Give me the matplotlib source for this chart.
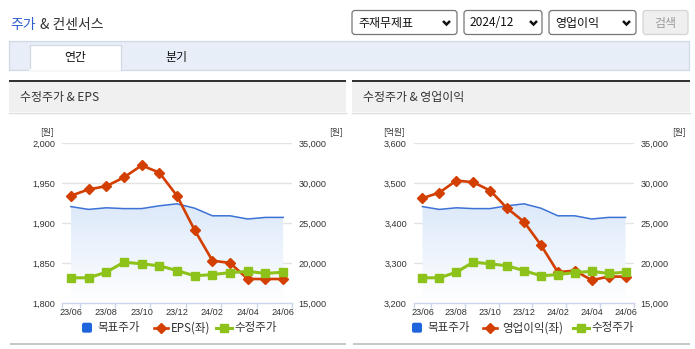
import matplotlib
matplotlib.use("Agg")
import matplotlib.pyplot as plt
from matplotlib.patches import Rectangle, FancyBboxPatch, Polygon
from matplotlib.colors import LinearSegmentedColormap
import numpy as np

plt.rcParams['font.family'] = ['Noto Sans CJK KR', 'DejaVu Sans']

# ---------------- data ----------------
months = ["23/06", "23/07", "23/08", "23/09", "23/10", "23/11", "23/12",
          "24/01", "24/02", "24/03", "24/04", "24/05", "24/06"]
target_price = [27050, 26700, 26900, 26800, 26800, 27150, 27400,
                26850, 25900, 25900, 25500, 25700, 25700]
adj_price = [18150, 18150, 18850, 20100, 19900, 19650, 19050,
             18400, 18550, 18800, 18950, 18700, 18850]
eps = [1934, 1942, 1946, 1957, 1972, 1963, 1934, 1891, 1853, 1850, 1830, 1830, 1830]
op_income = [3462, 3476, 3506, 3502, 3481, 3437, 3403, 3345, 3277, 3281, 3257, 3266, 3266]

left_ticks_eps = [1800, 1850, 1900, 1950, 2000]
left_ticks_op = [3200, 3300, 3400, 3500, 3600]
right_ticks = [15000, 20000, 25000, 30000, 35000]

W, H = 695, 349
RED = '#d23f00'
GREEN = '#8cc21a'
BLUE = '#3d72d6'
BLUE_SQ = '#1f66dd'
AXC = '#ccd6eb'
NUMFONT = ['Liberation Sans Narrow', 'Liberation Sans', 'DejaVu Sans']

fig = plt.figure(figsize=(W / 100, H / 100), dpi=100)
ui = fig.add_axes([0, 0, 1, 1])
ui.set_xlim(0, W)
ui.set_ylim(H, 0)
ui.axis('off')
ui.set_zorder(0)


def frac(x0, y0, x1, y1):
    return [x0 / W, 1 - y1 / H, (x1 - x0) / W, (y1 - y0) / H]


# ---------------- header UI ----------------
ui.text(10, 25, "주가", color='#2f5fce', fontsize=10, va='center', ha='left')
ui.text(40, 25, "& 컨센서스", color='#333333', fontsize=10, va='center', ha='left')


def dropdown(x0, x1, label, chev_x):
    ui.add_patch(FancyBboxPatch((x0, 10.5), x1 - x0, 24, boxstyle="round,pad=0,rounding_size=3",
                                facecolor='white', edgecolor='#767676', lw=0.9))
    ui.text(x0 + 6, 23, label, fontsize=8.6, va='center', ha='left', color='#111111')
    ui.plot([chev_x - 3.5, chev_x, chev_x + 3.5], [21, 24.5, 21], color='#111111', lw=1.8,
            solid_capstyle='butt', solid_joinstyle='miter')


dropdown(352, 457, "주재무제표", 446.5)
dropdown(464, 542, "2024/12", 533.5)
dropdown(549, 636, "영업이익", 626.5)
ui.add_patch(FancyBboxPatch((643, 10.5), 45, 24, boxstyle="round,pad=0,rounding_size=3",
                            facecolor='#efefef', edgecolor='#d4d4d4', lw=0.9))
ui.text(665.5, 23, "검색", fontsize=8.6, va='center', ha='center', color='#9a9a9a')

# tab bar
ui.add_patch(Rectangle((9, 40.5), 680, 29, facecolor='#e8eef8', edgecolor='#d0d9e6', lw=0.9))
ui.add_patch(Rectangle((29.5, 45), 91, 25, facecolor='white', edgecolor='#d0d9e6', lw=0.9))
ui.plot([30, 120], [69.8, 69.8], color='white', lw=1.2)
ui.text(75, 57.5, "연간", fontsize=8.6, ha='center', va='center', color='#111111')
ui.text(176, 57.5, "분기", fontsize=8.6, ha='center', va='center', color='#111111')

# panels
for (px0, px1, title) in [(9, 346, "수정주가 & EPS"), (352, 690, "수정주가 & 영업이익")]:
    ui.add_patch(Rectangle((px0, 82), px1 - px0, 30, facecolor='#f0f0f0', edgecolor='none'))
    ui.add_patch(Rectangle((px0, 80), px1 - px0, 2.2, facecolor='#333333', edgecolor='none'))
    ui.plot([px0, px1], [112.5, 112.5], color='#dddddd', lw=1)
    ui.text(px0 + 11, 97, title, fontsize=8.6, ha='left', va='center', color='#333333')
    ui.add_patch(Rectangle((px0 + 1, 342.5), px1 - px0 - 1, 2.6, facecolor='#c8c8c8', edgecolor='none'))

# unit labels
for (x, s) in [(47, "[원]"), (336, "[원]"), (394, "[억원]"), (679, "[원]")]:
    ui.text(x, 132, s, fontsize=6.3, ha='center', va='center', color='#333333')

# ---------------- charts ----------------
grad_cmap = LinearSegmentedColormap.from_list('g', ['#ffffff', '#dce9fa'])


def chart(x0, x1, left_vals, left_ticks, left_name, leg):
    rect = frac(x0, 143, x1, 303)
    axR = fig.add_axes(rect)
    axL = axR.twinx()
    axG = axR.twinx()
    axR.set_zorder(1)
    axL.set_zorder(2)
    axG.set_zorder(3)
    for a in (axL, axG):
        a.patch.set_visible(False)
    axR.patch.set_facecolor('white')

    n = len(months)
    x = np.arange(n)
    for a in (axR, axL, axG):
        a.set_xlim(-0.5, n - 0.5)
        for s in a.spines.values():
            s.set_visible(False)
    axR.set_ylim(right_ticks[0], right_ticks[-1])
    axG.set_ylim(right_ticks[0], right_ticks[-1])
    axL.set_ylim(left_ticks[0], left_ticks[-1])

    # gradient area under target price
    top = max(target_price)
    im = axR.imshow(np.linspace(0, 1, 100).reshape(-1, 1), extent=[0, n - 1, right_ticks[0], top],
                    aspect='auto', origin='lower', cmap=grad_cmap, zorder=0.5)
    verts = [(0, right_ticks[0])] + list(zip(x, target_price)) + [(n - 1, right_ticks[0])]
    poly = Polygon(verts, closed=True, facecolor='none', edgecolor='none', transform=axR.transData)
    axR.add_patch(poly)
    im.set_clip_path(poly)
    axR.set_xlim(-0.5, n - 0.5)
    axR.set_ylim(right_ticks[0], right_ticks[-1])

    # grid
    for t in right_ticks[1:]:
        axR.axhline(t, color='#e3e3e3', lw=1, zorder=0.3)
    axR.spines['bottom'].set_visible(True)
    axR.spines['bottom'].set_color(AXC)
    axR.spines['bottom'].set_linewidth(1)

    axR.plot(x, target_price, color=BLUE, lw=1.1, zorder=2)
    axL.plot(x, left_vals, color=RED, lw=1.9, marker='D', markersize=5.6, zorder=3)
    axG.plot(x, adj_price, color=GREEN, lw=2.2, marker='s', markersize=6.2, zorder=4)

    # x ticks
    axR.set_xticks(x[::2])
    axR.set_xticklabels(months[::2], fontsize=6.6, family=NUMFONT, color='#333333')
    axR.set_xticks([-0.5, 0.5, 2.5, 4.5, 6.5, 8.5, 10.5, 12.5], minor=True)
    axR.tick_params(axis='x', which='major', length=0, pad=3.3)
    axR.tick_params(axis='x', which='minor', length=3.5, color=AXC, width=1)
    for a in (axL, axG):
        a.tick_params(axis='x', which='both', bottom=False, top=False,
                      labelbottom=False, labeltop=False)
    # y ticks
    axR.tick_params(axis='y', which='both', left=False, right=False,
                    labelleft=False, labelright=False)
    axG.set_yticks(right_ticks)
    axG.set_yticklabels([f"{v:,}" for v in right_ticks], fontsize=6.6, family=NUMFONT, color='#333333')
    axG.tick_params(axis='y', length=0, pad=4.5)
    axL.yaxis.set_ticks_position('left')
    axL.set_yticks(left_ticks)
    axL.set_yticklabels([f"{v:,}" for v in left_ticks], fontsize=6.6, family=NUMFONT, color='#333333')
    axL.tick_params(axis='y', length=0, pad=5)

    # legend
    ly = 327.7
    (bx, tx1, rx, tx2, gx, tx3) = leg
    ui.add_patch(FancyBboxPatch((bx, ly - 5), 10, 10, boxstyle="round,pad=0,rounding_size=2",
                                facecolor=BLUE_SQ, edgecolor='none'))
    ui.text(tx1, ly, "목표주가", fontsize=8.3, ha='left', va='center', color='#333333')
    ui.plot([rx - 7, rx + 7], [ly, ly], color=RED, lw=1.9)
    ui.plot([rx], [ly], marker='D', color=RED, markersize=5)
    ui.text(tx2, ly, left_name, fontsize=8.3, ha='left', va='center', color='#333333')
    ui.plot([gx - 8, gx + 8], [ly, ly], color=GREEN, lw=2.2)
    ui.plot([gx], [ly], marker='s', color=GREEN, markersize=6)
    ui.text(tx3, ly, "수정주가", fontsize=8.3, ha='left', va='center', color='#333333')


chart(62, 292, eps, left_ticks_eps, "EPS(좌)", (82, 97, 161, 171, 224, 234))
chart(414, 634, op_income, left_ticks_op, "영업이익(좌)", (412, 427.5, 490, 502, 581, 591.5))

fig.savefig("out.png", dpi=100)
